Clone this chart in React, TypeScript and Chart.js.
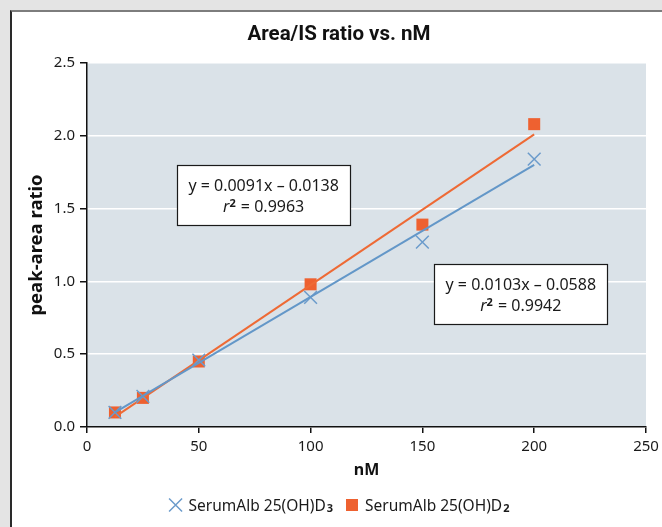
import React, { useEffect, useRef } from 'react';
import { Chart, registerables } from 'chart.js';

Chart.register(...registerables);

// ---- data ----
const concentrations = [12.5, 25, 50, 100, 150, 200];
const d3Ratios = [0.1, 0.21, 0.46, 0.89, 1.27, 1.84];
const d2Ratios = [0.1, 0.2, 0.45, 0.98, 1.39, 2.08];
const trendX = [12.5, 200];
const d3Trend = [0.1, 1.8];
const d2Trend = [0.07, 2.01];
const seriesNames = ['SerumAlb 25(OH)D', 'SerumAlb 25(OH)D'];
const seriesSubs = ['3', '2'];
const chartTitle = 'Area/IS ratio vs. nM';
const equationTexts = ['y = 0.0091x – 0.0138', 'y = 0.0103x – 0.0588'];
const r2Texts = ['0.9963', '0.9942'];
// anchors (data coordinates) for the equation boxes
const equationAnchorX = [79, 194];
const equationAnchorY = [1.59, 0.915];

const BLUE = '#6b9bcb';
const BLUE_LINE = '#6397c8';
const ORANGE = '#ee6130';
const ORANGE_LINE = '#ee6a35';
const PLOT_BG = '#dae2e8';
const FONT = '"Noto Sans", "Open Sans", sans-serif';

const decor = {
  id: 'decor',
  beforeDraw(chart: any) {
    const { ctx, chartArea: a } = chart;
    ctx.save();
    ctx.fillStyle = PLOT_BG;
    ctx.fillRect(a.left, a.top, a.right - a.left, a.bottom - a.top);
    ctx.restore();
  },
  afterDraw(chart: any) {
    const { ctx } = chart;
    const xs = chart.scales.x;
    const ys = chart.scales.y;
    ctx.save();
    // title
    ctx.fillStyle = '#111';
    ctx.textAlign = 'center';
    ctx.textBaseline = 'middle';
    ctx.font = `bold 20.5px Roboto, ${FONT}`;
    ctx.fillText(chartTitle, chart.width / 2 + 2, 23);

    // equation boxes
    for (let i = 0; i < equationTexts.length; i++) {
      const cx = xs.getPixelForValue(equationAnchorX[i]);
      const cy = ys.getPixelForValue(equationAnchorY[i]);
      const w = 173;
      const h = 60;
      const l = Math.round(cx - w / 2) + 0.5;
      const t = Math.round(cy - h / 2) + 0.5;
      ctx.fillStyle = '#ffffff';
      ctx.fillRect(l, t, w, h);
      ctx.strokeStyle = '#1a1a1a';
      ctx.lineWidth = 1.2;
      ctx.strokeRect(l, t, w, h);
      ctx.fillStyle = '#1a1a1a';
      ctx.textBaseline = 'alphabetic';
      ctx.textAlign = 'center';
      ctx.font = `16px ${FONT}`;
      ctx.fillText(equationTexts[i], cx, cy - 4);
      // second line: r² = value
      const parts = [
        { t: 'r', f: `italic 16px ${FONT}`, dy: 0 },
        { t: '2', f: `bold 11px ${FONT}`, dy: -5 },
        { t: ' = ' + r2Texts[i], f: `16px ${FONT}`, dy: 0 },
      ];
      let total = 0;
      const widths = parts.map((p) => {
        ctx.font = p.f;
        const m = ctx.measureText(p.t).width;
        total += m + (p.t === '2' ? 1 : 0);
        return m;
      });
      let x = cx - total / 2;
      ctx.textAlign = 'left';
      parts.forEach((p, k) => {
        ctx.font = p.f;
        ctx.fillText(p.t, x, cy + 17 + p.dy);
        x += widths[k] + (p.t === '2' ? 1 : 0);
      });
    }

    // legend
    const legendY = 493;
    const mainFont = `15.5px ${FONT}`;
    const subFont = `bold 11px ${FONT}`;
    const itemWidths = seriesNames.map((n, i) => {
      ctx.font = mainFont;
      const a = ctx.measureText(n).width;
      ctx.font = subFont;
      const b = ctx.measureText(seriesSubs[i]).width;
      return 20 + a + 1 + b;
    });
    const gap = 12;
    const totalW = itemWidths.reduce((s, v) => s + v, 0) + gap;
    let lx = 327 - totalW / 2;
    seriesNames.forEach((n, i) => {
      const mx = lx + 7;
      if (i === 0) {
        ctx.strokeStyle = BLUE;
        ctx.lineWidth = 1.5;
        ctx.beginPath();
        ctx.moveTo(mx - 6.5, legendY - 6.5);
        ctx.lineTo(mx + 6.5, legendY + 6.5);
        ctx.moveTo(mx + 6.5, legendY - 6.5);
        ctx.lineTo(mx - 6.5, legendY + 6.5);
        ctx.stroke();
      } else {
        ctx.fillStyle = ORANGE;
        ctx.fillRect(mx - 6, legendY - 6, 12, 12);
      }
      ctx.fillStyle = '#1a1a1a';
      ctx.textAlign = 'left';
      ctx.textBaseline = 'alphabetic';
      ctx.font = mainFont;
      const tx = lx + 20;
      ctx.fillText(n, tx, legendY + 5.5);
      const tw = ctx.measureText(n).width;
      ctx.font = subFont;
      ctx.fillText(seriesSubs[i], tx + tw + 1, legendY + 7);
      lx += itemWidths[i] + gap;
    });
    ctx.restore();
  },
};

export default function App() {
  const ref = useRef<HTMLCanvasElement | null>(null);

  useEffect(() => {
    if (!ref.current) return;
    const toPts = (xs: number[], ys: number[]) => xs.map((x, i) => ({ x, y: ys[i] }));
    const chart = new Chart(ref.current, {
      type: 'scatter',
      data: {
        datasets: [
          {
            label: 'D3 trend',
            data: toPts(trendX, d3Trend),
            showLine: true,
            borderColor: BLUE_LINE,
            borderWidth: 2,
            pointRadius: 0,
            order: 1,
          },
          {
            label: seriesNames[0] + seriesSubs[0],
            data: toPts(concentrations, d3Ratios),
            pointStyle: 'crossRot',
            pointRadius: 9,
            pointBorderWidth: 1.5,
            borderColor: BLUE,
            backgroundColor: BLUE,
            order: 2,
          },
          {
            label: 'D2 trend',
            data: toPts(trendX, d2Trend),
            showLine: true,
            borderColor: ORANGE_LINE,
            borderWidth: 2,
            pointRadius: 0,
            order: 3,
          },
          {
            label: seriesNames[1] + seriesSubs[1],
            data: toPts(concentrations, d2Ratios),
            pointStyle: 'rect',
            pointRadius: 8.5,
            pointBorderWidth: 0,
            borderColor: ORANGE,
            backgroundColor: ORANGE,
            order: 4,
          },
        ],
      },
      options: {
        responsive: false,
        animation: false,
        layout: { padding: { left: 0, right: 16, top: 51, bottom: 40 } },
        plugins: {
          legend: { display: false },
          tooltip: { enabled: false },
          title: { display: false },
        },
        scales: {
          x: {
            type: 'linear',
            min: 0,
            max: 250,
            afterFit: (s: any) => {
              s.height = 60;
              s.paddingLeft = 0;
              s.paddingRight = 0;
            },
            ticks: {
              stepSize: 50,
              color: '#1a1a1a',
              font: { family: FONT, size: 15 },
              padding: 5,
              maxRotation: 0,
            },
            grid: {
              drawOnChartArea: false,
              drawTicks: true,
              tickLength: 6,
              color: '#111',
              lineWidth: 1.5,
            },
            border: { display: true, color: '#111', width: 1.5 },
            title: {
              display: true,
              text: 'nM',
              color: '#111',
              font: { family: FONT, size: 16, weight: 'bold' },
              padding: { top: 0, bottom: 7 },
            },
          },
          y: {
            type: 'linear',
            min: 0,
            max: 2.5,
            afterFit: (s: any) => {
              s.width = 75;
            },
            ticks: {
              stepSize: 0.5,
              color: '#1a1a1a',
              font: { family: FONT, size: 15 },
              padding: 5,
              callback: (v: any) => Number(v).toFixed(1),
            },
            grid: {
              color: '#ffffff',
              tickColor: '#111',
              lineWidth: 1.5,
              tickLength: 7,
            },
            border: { display: true, color: '#111', width: 1.5 },
            title: {
              display: true,
              text: 'peak-area ratio',
              color: '#111',
              font: { family: FONT, size: 18.5, weight: 'bold' },
              padding: { top: 14, bottom: 0 },
            },
          },
        },
      },
      plugins: [decor],
    });
    return () => chart.destroy();
  }, []);

  return (
    <>
      <style>{`html,body{margin:0;padding:0;background:#e4e4e4;overflow:hidden;}`}</style>
      <div
        style={{
          position: 'absolute',
          left: 10,
          top: 10,
          width: 652,
          height: 517,
          background: '#ffffff',
          borderLeft: '2px solid #2a2a2a',
          borderTop: '2px solid #7d7d7d',
          boxSizing: 'content-box',
        }}
      >
        <canvas ref={ref} width={650} height={515} style={{ display: 'block' }} />
      </div>
    </>
  );
}
